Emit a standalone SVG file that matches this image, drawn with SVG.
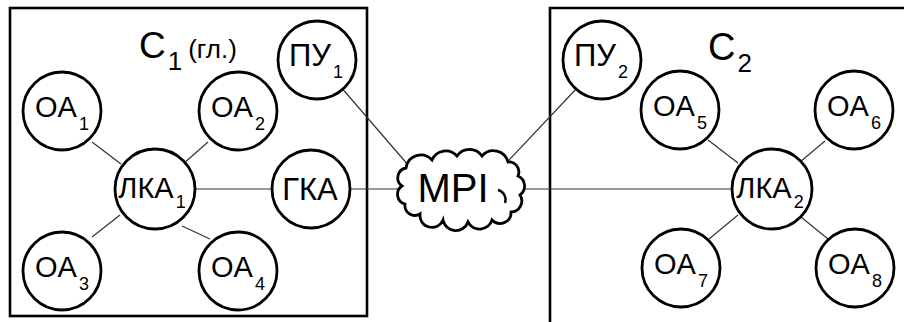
<svg xmlns="http://www.w3.org/2000/svg" width="904" height="322" viewBox="0 0 904 322">
<style>
.box{fill:none;stroke:#000;stroke-width:2.6}
.n{fill:#fff;stroke:#000;stroke-width:2.8}
.c{stroke:#333;stroke-width:1.2;fill:none}
text{font-family:"Liberation Sans",Arial,sans-serif;fill:#000}
.t{font-size:29px;text-anchor:middle}
.s{font-size:18px}
</style>
<rect width="904" height="322" fill="#fff"/>
<g id="cluster1">
<rect class="box" x="10" y="8" width="357" height="308"/>
<text x="139" y="58" style="font-size:37px">C<tspan dx="2" dy="12" style="font-size:26px">1</tspan><tspan dx="6" dy="-12" style="font-size:26px">(гл.)</tspan></text>
</g>
<g id="cluster2">
<path class="box" d="M550,322 V8 H906"/>
<text x="708" y="60" style="font-size:38px">C<tspan dx="2" dy="12" style="font-size:26px">2</tspan></text>
</g>
<g id="connectors">
<line class="c" x1="92" y1="142" x2="121" y2="164"/>
<line class="c" x1="208" y1="142" x2="183" y2="164"/>
<line class="c" x1="92" y1="237" x2="120" y2="215"/>
<line class="c" x1="182" y1="226" x2="210" y2="239"/>
<line class="c" x1="190" y1="189" x2="276" y2="189"/>
<line class="c" x1="345" y1="189" x2="400" y2="189"/>
<line class="c" x1="340" y1="86" x2="409" y2="166"/>
<line class="c" x1="578" y1="87" x2="508" y2="161"/>
<line class="c" x1="518" y1="189" x2="736" y2="189"/>
<line class="c" x1="708" y1="140" x2="738" y2="163"/>
<line class="c" x1="825" y1="141" x2="800" y2="162"/>
<line class="c" x1="709" y1="239" x2="738" y2="215"/>
<line class="c" x1="801" y1="217" x2="828" y2="239"/>
</g>
<g id="OA1"><circle class="n" cx="62" cy="111" r="39"/><text class="t" x="62" y="117">OA<tspan class="s" dx="2" dy="13">1</tspan></text></g>
<g id="OA2"><circle class="n" cx="238" cy="111" r="39"/><text class="t" x="238" y="117">OA<tspan class="s" dx="2" dy="13">2</tspan></text></g>
<g id="OA3"><circle class="n" cx="62" cy="271" r="39"/><text class="t" x="62" y="277">OA<tspan class="s" dx="2" dy="13">3</tspan></text></g>
<g id="OA4"><circle class="n" cx="238" cy="271" r="39"/><text class="t" x="238" y="277">OA<tspan class="s" dx="2" dy="13">4</tspan></text></g>
<g id="LKA1"><circle class="n" cx="155" cy="189" r="40"/><text class="t" x="152" y="198" style="font-size:29px">ЛКА<tspan class="s" dx="2" dy="10">1</tspan></text></g>
<g id="GKA"><circle class="n" cx="311" cy="189" r="39"/><text class="t" x="310" y="200" style="font-size:31px">ГКА</text></g>
<g id="PU1"><circle class="n" cx="317" cy="60" r="39"/><text class="t" x="316" y="66" style="font-size:31px">ПУ<tspan class="s" dx="2" dy="12">1</tspan></text></g>
<g id="MPI">
<path class="n" d="M406,168 A15 15 0 0 1 432,160 A15 15 0 0 1 457,156 A15 15 0 0 1 482,156 A15 15 0 0 1 508,162 A10 10 0 0 1 518,176 A11 11 0 0 1 520,195 A11 11 0 0 1 511,212 A11 11 0 0 1 492,220 A13 13 0 0 1 468,222 A13 13 0 0 1 443,220 A12 12 0 0 1 420,214 A10 10 0 0 1 405,204 A10 10 0 0 1 402,186 A10 10 0 0 1 406,168 Z"/>
<path d="M498,190 A10 10 0 0 1 505,203" fill="none" stroke="#000" stroke-width="2.4"/>
<text x="453" y="202" style="font-size:40px;text-anchor:middle">MPI</text>
</g>
<g id="PU2"><circle class="n" cx="602" cy="60" r="39"/><text class="t" x="601" y="66" style="font-size:31px">ПУ<tspan class="s" dx="2" dy="12">2</tspan></text></g>
<g id="OA5"><circle class="n" cx="680" cy="110" r="39"/><text class="t" x="680" y="116">OA<tspan class="s" dx="2" dy="13">5</tspan></text></g>
<g id="OA6"><circle class="n" cx="854" cy="110" r="39"/><text class="t" x="854" y="116">OA<tspan class="s" dx="2" dy="13">6</tspan></text></g>
<g id="LKA2"><circle class="n" cx="772" cy="189" r="40"/><text class="t" x="770" y="198" style="font-size:29px">ЛКА<tspan class="s" dx="2" dy="10">2</tspan></text></g>
<g id="OA7"><circle class="n" cx="681" cy="268" r="39"/><text class="t" x="681" y="274">OA<tspan class="s" dx="2" dy="13">7</tspan></text></g>
<g id="OA8"><circle class="n" cx="855" cy="268" r="39"/><text class="t" x="855" y="274">OA<tspan class="s" dx="2" dy="13">8</tspan></text></g>
</svg>
